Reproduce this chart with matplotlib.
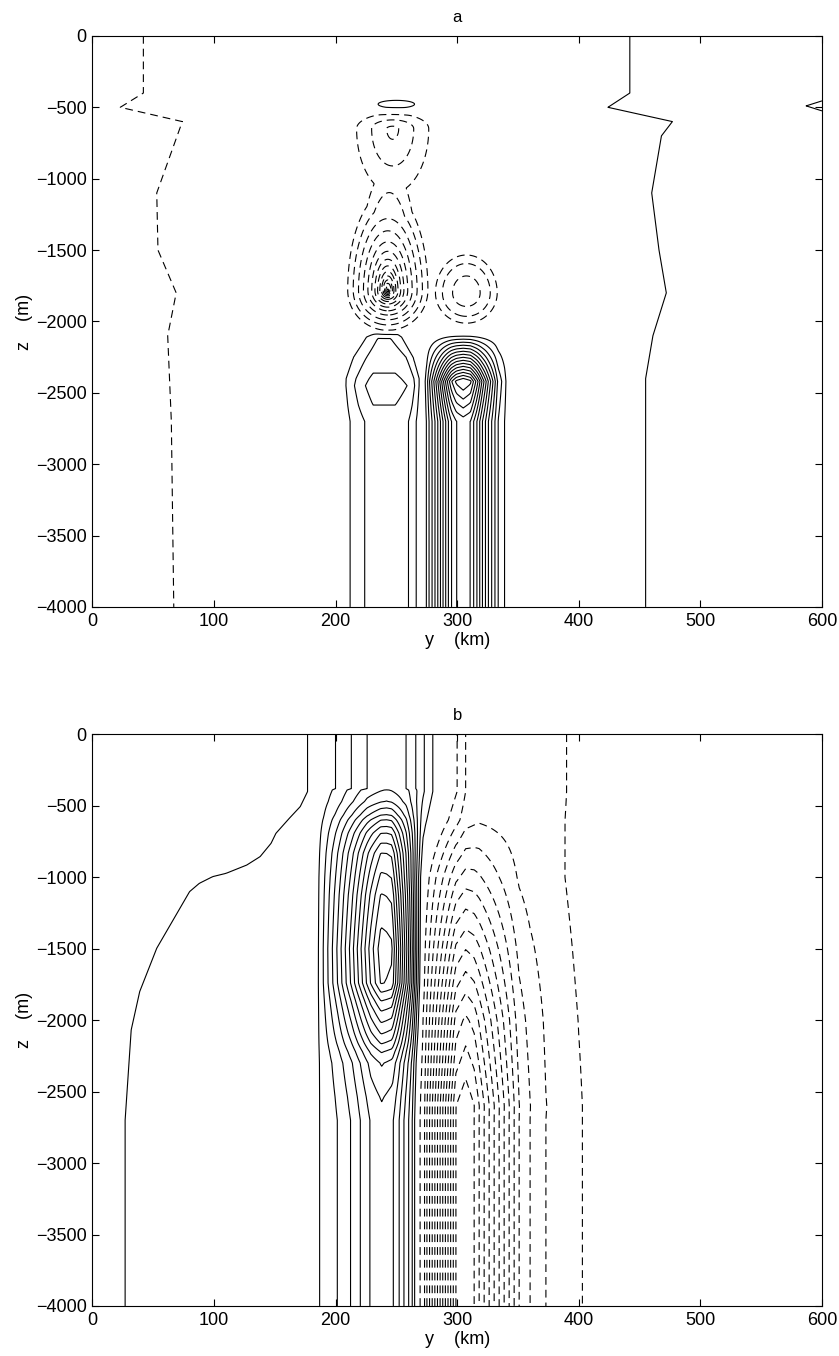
import numpy as np
import matplotlib
matplotlib.use("Agg")
import matplotlib.pyplot as plt

plt.rcParams['font.family'] = ['Liberation Sans', 'DejaVu Sans']

# section grid: y across (km), z depth (m)
y = np.linspace(0, 600, 601)
z = np.linspace(-4000, 0, 801)
Y, Z = np.meshgrid(y, z)

# ---------------- panel a ----------------
# outer -1 (west) and +1 (east) contour positions by depth
a_west_z = [-4000, -2700, -2100, -1800, -1500, -1100, -600, -500, -400, 0]
a_west_y = [67, 65, 62, 69, 54, 53, 74, 23, 42, 42]
a_east_z = [-4000, -2700, -2400, -2100, -1800, -1500, -1100, -700, -600, -500, -400, 0]
a_east_y = [455, 455, 455, 461, 472, 466, 460, 468, 477, 424, 442, 442]

# western deep column: crossings across y, depth weight and width factor
a_colL_y = [205, 212, 224, 231, 249, 260, 266.5, 270]
a_colL_v = [0, 1, 2, 2.4, 2.4, 2, 1, 0]
a_colL_z = [-4000, -2700, -2586, -2450, -2362, -2250, -2110, -2085, -2060]
a_colL_w = [1.0, 1.0, 1.25, 1.45, 1.25, 1.0, 0.83, 0.42, 0.0]
a_colL_sz = [-4000, -2700, -2400, -2250, -2100, 0]
a_colL_s = [1.0, 1.0, 1.05, 0.9, 0.55, 0.55]
a_colL_c = 240

# eastern deep column
a_colR_y = [271, 274.8, 276.9, 279.4, 281.8, 284.1, 286.3, 288.4, 290.6, 292.8,
            295.3, 299.4, 305, 310.9, 313.6, 316.3, 318.6, 320.8, 323.3, 325.7,
            328.4, 331.1, 333.6, 339, 343]
a_colR_v = [0, 1, 2, 3, 4, 5, 6, 7, 8, 9, 10, 11, 11.5, 11, 10, 9, 8, 7, 6, 5,
            4, 3, 2, 1, 0]
a_colR_z = [-4000, -2700, -2420, -2082]
a_colR_w = [1.0, 1.0, 1.39, 0.0]

# eddies: y (km), z (m), amplitude, half-width (km), half-height above / below (m)
a_core_outer = (243, -1780, -8.0, 37.5, 780, 320)
a_core_inner = (243, -1790, -7.0, 12, 250, 110)
a_upper = (247, -650, -3.4, 42, 150, 630)
a_east = (307.6, -1800, -3.5, 30, 314, 251)
a_lens = (250, -478, 1.5, 45, 80, 80)
a_edge = (600, -490, -1.0, 26, 70, 70)

# ---------------- panel b ----------------
# +1 contour on the western side
b_west_z = [-4000, -2700, -2068, -1800, -1497, -1101, -1043, -996, -973, -915,
            -856, -763, -693, -588, -506, -401, 0]
b_west_y = [27, 27, 32, 39, 53, 80, 88, 99, 110, 127, 138, 147, 151, 162, 171,
            177, 177]

# crossings near the surface and at the bottom
b_top_y = [0, 190, 200, 213, 226, 242, 258, 266, 273, 280, 290, 300, 307, 318,
           380, 390, 400, 600]
b_top_v = [1.5, 1.5, 2, 3, 4, 4.5, 4, 3, 2, 1, 0, -1, -2, -2.5, -2.5, -2, -1.5,
           -1.5]
b_deep_y = [0, 180, 187, 202, 213, 221, 229, 238, 247, 252, 256, 260, 263, 265,
            267, 270, 274, 600]
b_deep_v = [1.5, 1.5, 2, 3, 4, 5, 6, 6.5, 6, 5, 4, 3, 2, 1, 0, -1, -1.5, -1.5]
b_blend_z = [-4000, -2700, -1000, -400, 0]
b_blend_w = [1.0, 1.0, 0.6, 0.0, 0.0]

# jet core: level at y = 240 km by depth, and its cross-section
b_core_z = [-4000, -2700, -2536, -2300, -2220, -2160, -2090, -2010, -1930, -1860,
            -1800, -1740, -1500, -1368, -1124, -972, -832, -762, -692, -646,
            -599, -564, -517, -471, -390, -380, 0]
b_core_v = [6.5, 6.5, 7, 8, 9, 10, 11, 12, 13, 14, 15, 16, 16.5, 16, 15, 14,
            13, 12, 11, 10, 9, 8, 7, 6, 5, 4.4, 4.4]
b_jet_y = [185, 237, 246, 272]
b_jet_v = [0, 1, 1, 0]

# deep negative trough: bottom cross-section and depth weight
b_trough_y = [0, 268, 273, 299, 307, 314, 351, 360, 373, 403, 420, 600]
b_trough_v = [0, 0, -0.5, -12.5, -13.3, -12.5, -3.5, -2.5, -1.5, -0.5, 0, 0]
b_trough_z = [-4000, -2600, -2000, -1500, -1000, -600, -400, 0]
b_trough_g = [1.0, 1.0, 0.8, 0.55, 0.28, 0.05, 0.0, 0.0]


def across(yk, vk):
    return np.interp(y, yk, vk)[None, :]


def down(zk, vk):
    return np.interp(z, zk, vk)[:, None]


def eddy(params, shape='cone', p=2):
    yc, zc, amp, sy, sz_up, sz_dn = params
    dz = Z - zc
    sz = np.where(dz > 0, sz_up, sz_dn)
    r = (np.abs((Y - yc) / sy) ** p + np.abs(dz / sz) ** p) ** (1.0 / p)
    if shape == 'exp':
        return amp * np.exp(-r * np.log(abs(amp)))
    if shape == 'dome':
        return amp * np.clip(1 - r ** 2, 0, None)
    return amp * np.clip(1 - r, 0, None)


# panel a field
yl = down(a_west_z, a_west_y)
yr = down(a_east_z, a_east_y)
field_a = (np.clip((Y - (yl + 40)) / 40, -1.5, 0)
           + np.clip((Y - (yr - 40)) / 40, 0, 1.5))

# western column narrows toward its top
ys = a_colL_c + (Y - a_colL_c) / down(a_colL_sz, a_colL_s)
field_a += np.interp(ys, a_colL_y, a_colL_v) * down(a_colL_z, a_colL_w)
field_a += across(a_colR_y, a_colR_v) * down(a_colR_z, a_colR_w)
field_a += eddy(a_core_outer)
field_a += eddy(a_core_inner, 'exp')
field_a += eddy(a_upper)
field_a += eddy(a_east, 'dome')
field_a += eddy(a_lens)
field_a += eddy(a_edge, p=1)

# panel b field
yw = down(b_west_z, b_west_y)
w = down(b_blend_z, b_blend_w)
base = (1 - w) * across(b_top_y, b_top_v) + w * across(b_deep_y, b_deep_v)
core = np.clip(down(b_core_z, b_core_v)[:, 0] - base[:, 240], 0, None)
field_b = base - 1.0 / (1 + np.exp((Y - yw) / 2.0))
field_b += core[:, None] * across(b_jet_y, b_jet_v)
field_b += down(b_trough_z, b_trough_g) * across(b_trough_y, b_trough_v)

levels = [k for k in range(-20, 21) if k != 0]
styles = ['solid' if k > 0 else (0, (7, 4.5)) for k in levels]

fig = plt.figure(figsize=(8.39, 13.56), dpi=100)
ax_a = fig.add_axes([0.110, 0.5524, 0.8697, 0.4211])
ax_b = fig.add_axes([0.110, 0.0369, 0.8697, 0.4216])

for ax, field, name in [(ax_a, field_a, 'a'), (ax_b, field_b, 'b')]:
    ax.contour(y, z, field, levels=levels, colors='k', linewidths=0.8,
               linestyles=styles)
    ax.set_xlim(0, 600)
    ax.set_ylim(-4000, 0)
    ax.set_xticks(np.arange(0, 601, 100))
    ax.set_yticks(np.arange(-4000, 1, 500))
    ax.tick_params(direction='in', top=True, right=True, length=5, width=0.8,
                   labelsize=13, pad=4)
    for sp in ax.spines.values():
        sp.set_linewidth(0.8)
    ax.set_title(name, fontsize=12, pad=10)
    ax.set_xlabel('y    (km)', fontsize=13, labelpad=2)
    ax.set_ylabel('z    (m)', fontsize=13, labelpad=2)

fig.savefig('out.png', dpi=100)
